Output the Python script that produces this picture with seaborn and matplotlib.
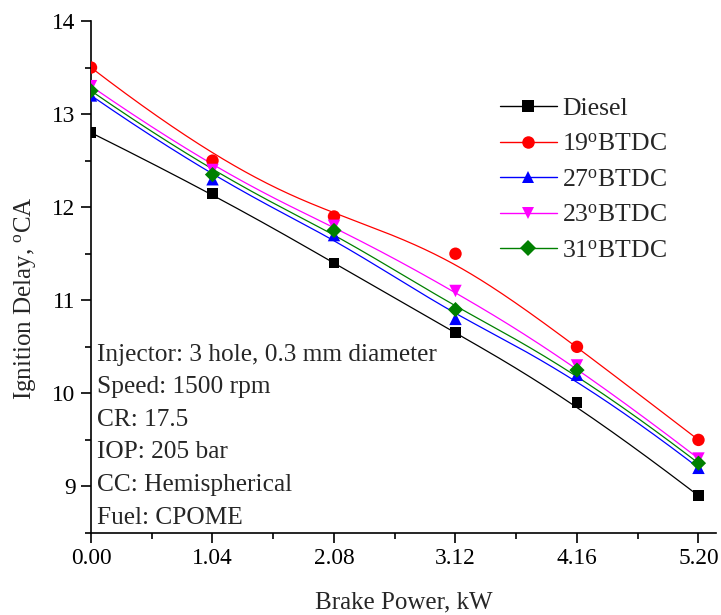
import numpy as np
import pandas as pd
import matplotlib
matplotlib.use("Agg")
import matplotlib.pyplot as plt
import seaborn as sns
from matplotlib.lines import Line2D
from matplotlib.ticker import MultipleLocator, FixedLocator

# ---------------- data ----------------
power = [0.00, 1.04, 2.08, 3.12, 4.16, 5.20]
diesel = [12.80, 12.15, 11.40, 10.65, 9.90, 8.90]
btdc19 = [13.50, 12.50, 11.90, 11.50, 10.50, 9.50]
btdc27 = [13.20, 12.30, 11.70, 10.80, 10.20, 9.20]
btdc23 = [13.30, 12.40, 11.80, 11.10, 10.30, 9.30]
btdc31 = [13.25, 12.35, 11.75, 10.90, 10.25, 9.25]
series_labels = ["Diesel", "19$^{\\rm o}$BTDC", "27$^{\\rm o}$BTDC",
                 "23$^{\\rm o}$BTDC", "31$^{\\rm o}$BTDC"]
xtick_labels = ["0.00", "1.04", "2.08", "3.12", "4.16", "5.20"]
notes = ["Injector: 3 hole, 0.3 mm diameter", "Speed: 1500 rpm", "CR: 17.5",
         "IOP: 205 bar", "CC: Hemispherical", "Fuel: CPOME"]

series_values = [diesel, btdc19, btdc27, btdc23, btdc31]
colors = ["#000000", "#ff0000", "#0000ff", "#ff00ff", "#008000"]
markers = ["s", "o", "^", "v", "D"]
msizes = [60, 80, 80, 80, 60]

rows = []
for lab, vals in zip(series_labels, series_values):
    for x, y in zip(power, vals):
        rows.append({"power": x, "delay": y, "series": lab})
df = pd.DataFrame(rows)

# ---------------- style ----------------
sns.set_style("ticks")
plt.rcParams["font.family"] = ["Liberation Serif", "DejaVu Serif"]
plt.rcParams["mathtext.fontset"] = "custom"
plt.rcParams["mathtext.rm"] = "Liberation Serif"
plt.rcParams["mathtext.it"] = "Liberation Serif:italic"
plt.rcParams["mathtext.bf"] = "Liberation Serif:bold"


def bspline(xs, ys, n=300, k=3):
    P = np.column_stack([xs, ys]).astype(float)
    m = len(P)
    knots = np.concatenate([[0] * k, np.arange(m - k + 1), [m - k] * k]).astype(float)
    t = np.linspace(0, m - k, n)
    nk = len(knots) - 1
    B = np.zeros((n, nk))
    for i in range(nk):
        B[:, i] = ((knots[i] <= t) & (t < knots[i + 1])).astype(float)
    last = np.where(knots[:-1] < knots[1:])[0][-1]
    B[t >= knots[-1], :] = 0
    B[t >= knots[-1], last] = 1
    for p in range(1, k + 1):
        Bn = np.zeros((n, nk - p))
        for i in range(nk - p):
            d1 = knots[i + p] - knots[i]
            d2 = knots[i + p + 1] - knots[i + 1]
            a = (t - knots[i]) / d1 * B[:, i] if d1 > 0 else 0
            b = (knots[i + p + 1] - t) / d2 * B[:, i + 1] if d2 > 0 else 0
            Bn[:, i] = a + b
        B = Bn
    C = B @ P
    return C[:, 0], C[:, 1]


W, H = 721, 615
fig = plt.figure(figsize=(W / 100, H / 100), dpi=100)
ax = fig.add_axes([91 / W, (H - 533) / H, (716 - 91) / W, (533 - 21) / H])

for lab, vals, c in zip(series_labels, series_values, colors):
    cx, cy = bspline(power, vals)
    ax.plot(cx, cy, color=c, lw=0.9, zorder=2)

for lab, c, mk, ms in zip(series_labels, colors, markers, msizes):
    sub = df[df["series"] == lab]
    sns.scatterplot(data=sub, x="power", y="delay", color=c, marker=mk, s=ms,
                    edgecolor="none", linewidth=0, legend=False, ax=ax, zorder=3)

ax.set_xlim(0, 5.35)
ax.set_ylim(8.5, 14)
ax.xaxis.set_major_locator(FixedLocator(power))
ax.set_xticklabels(xtick_labels)
ax.xaxis.set_minor_locator(MultipleLocator(0.52))
ax.yaxis.set_major_locator(MultipleLocator(1))
ax.yaxis.set_minor_locator(MultipleLocator(0.5))
ax.set_yticks([9, 10, 11, 12, 13, 14])

for s in ["top", "right"]:
    ax.spines[s].set_visible(False)
for s in ["left", "bottom"]:
    ax.spines[s].set_linewidth(1.2)
    ax.spines[s].set_color("black")

ax.tick_params(which="major", direction="out", length=7, width=1.2,
               labelsize=16.8, colors="black", pad=4)
ax.tick_params(which="minor", direction="out", length=4, width=1.2, colors="black")

ax.set_xlabel("Brake Power, kW", fontsize=18, va="center")
ax.xaxis.set_label_coords(0.5, (533 - 602) / 512)
ax.set_ylabel("Ignition Delay, $^{\\rm o}$CA", fontsize=18, va="center")
ax.yaxis.set_label_coords((25 - 91) / 625, (533 - 298) / 512)

handles = [Line2D([0], [0], color=c, marker=mk, markersize=(8 if mk in "s D" else 9),
                  markeredgewidth=0, lw=1.0)
           for c, mk in zip(colors, markers)]
fig.legend(handles, series_labels, loc="upper left",
           bbox_to_anchor=(500 / W, 1 - 97 / H), frameon=False, fontsize=18.5,
           borderpad=0, borderaxespad=0, handlelength=2.2, handletextpad=0.23,
           labelspacing=0.49)

for i, line in enumerate(notes):
    fig.text(97 / W, 1 - (355 + i * 32.5) / H, line, fontsize=18.3,
             ha="left", va="center")

fig.savefig("out.png", dpi=100)
